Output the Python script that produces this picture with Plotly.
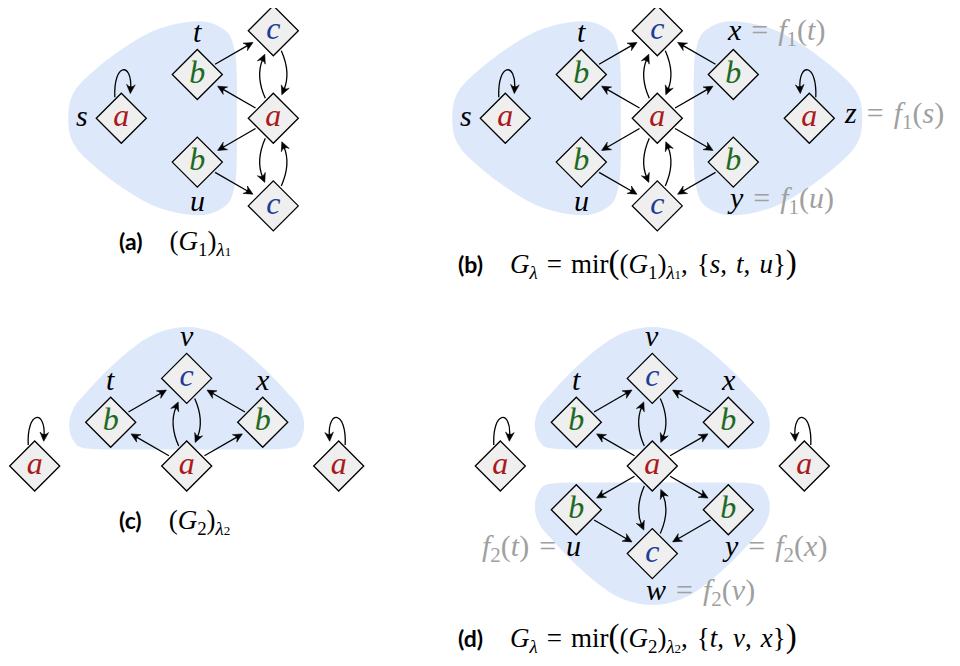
import math
import plotly.graph_objects as go

# ---------------- data ----------------
# Panel (a): (G1)_{λ1}
A_ID = ["s", "t", "u", "m", "c1", "c2"]
A_KIND = ["a", "b", "b", "a", "c", "c"]
A_COL = [-2, -1, -1, 0, 0, 0]
A_ROW = [0, -1, 1, 0, -2, 2]
A_EDGES = [("t", "c1"), ("m", "t"), ("m", "u"), ("u", "c2")]
A_BENDS = [("m", "c1"), ("m", "c2")]
A_LOOPS = [("s", "R")]
A_LABELS = [("s", "s", "left", "", ""), ("t", "t", "above", "", ""), ("u", "u", "below", "", "")]

# Panel (b): G_λ = mir((G1)_{λ1}, {s,t,u})
B_ID = ["s", "t", "u", "c1", "m", "c2", "x", "y", "z"]
B_KIND = ["a", "b", "b", "c", "a", "c", "b", "b", "a"]
B_COL = [-2, -1, -1, 0, 0, 0, 1, 1, 2]
B_ROW = [0, -1, 1, -2, 0, 2, -1, 1, 0]
B_EDGES = [("t", "c1"), ("m", "t"), ("m", "u"), ("u", "c2"),
           ("x", "c1"), ("m", "x"), ("m", "y"), ("y", "c2")]
B_BENDS = [("m", "c1"), ("m", "c2")]
B_LOOPS = [("s", "R"), ("z", "L")]
B_LABELS = [("s", "s", "left", "", ""), ("t", "t", "above", "", ""), ("u", "u", "below", "", ""),
            ("x", "x", "above", "", "f|1|t"), ("y", "y", "below", "", "f|1|u"),
            ("z", "z", "right", "", "f|1|s")]

# Panel (c): (G2)_{λ2}
C_ID = ["l", "t", "v", "m", "x", "r"]
C_KIND = ["a", "b", "c", "a", "b", "a"]
C_COL = [-2, -1, 0, 0, 1, 2]
C_ROW = [0, -1, -2, 0, -1, 0]
C_EDGES = [("t", "v"), ("m", "t"), ("x", "v"), ("m", "x")]
C_BENDS = [("m", "v")]
C_LOOPS = [("l", "R"), ("r", "L")]
C_LABELS = [("t", "t", "above", "", ""), ("v", "v", "above", "", ""), ("x", "x", "above", "", "")]

# Panel (d): G_λ = mir((G2)_{λ2}, {t,v,x})
D_ID = ["l", "t", "v", "m", "x", "r", "u", "w", "y"]
D_KIND = ["a", "b", "c", "a", "b", "a", "b", "c", "b"]
D_COL = [-2, -1, 0, 0, 1, 2, -1, 0, 1]
D_ROW = [0, -1, -2, 0, -1, 0, 1, 2, 1]
D_EDGES = [("t", "v"), ("m", "t"), ("x", "v"), ("m", "x"),
           ("m", "u"), ("u", "w"), ("m", "y"), ("y", "w")]
D_BENDS = [("m", "v"), ("m", "w")]
D_LOOPS = [("l", "R"), ("r", "L")]
D_LABELS = [("v", "v", "above", "", ""), ("t", "t", "above", "", ""), ("x", "x", "above", "", ""),
            ("u", "u", "below", "f|2|t", ""), ("y", "y", "below", "", "f|2|x"),
            ("w", "w", "below", "", "f|2|v")]

CAPTION_TAGS = ["(a)", "(b)", "(c)", "(d)"]

# ---------------- style / layout ----------------
W, H = 960, 666
OFF = 8  # default page margin of the html body
UX, UY = 76.0, 43.8
ORIGINS = {"a": (273.3, 118.3), "b": (657.3, 118.3), "c": (186.7, 466.0), "d": (652.3, 466.0)}
KIND_COLOR = {"a": "#ab1a1a", "b": "#1e6a22", "c": "#203c98"}
BLOB = "#dde9fb"
NODE_FILL = "#efefef"
GRAY = "#a0a0a0"
SERIF = "Liberation Serif"
LW = 1.3
HEAD_L, HEAD_W = 9.0, 4.3
LABEL_SIZE = 30
NODE_TEXT_SIZE = 32
CAP_SIZE = 27

shapes = []
annotations = []


def add_head(tip, u):
    ux, uy = u
    nx, ny = -uy, ux
    bx, by = tip[0] - HEAD_L * ux, tip[1] - HEAD_L * uy
    b1 = (bx + HEAD_W * nx, by + HEAD_W * ny)
    b2 = (bx - HEAD_W * nx, by - HEAD_W * ny)
    c = (tip[0] - 0.5 * HEAD_L * ux, tip[1] - 0.5 * HEAD_L * uy)
    path = (f"M {tip[0]:.2f},{tip[1]:.2f} L {b1[0]:.2f},{b1[1]:.2f} "
            f"Q {c[0]:.2f},{c[1]:.2f} {b2[0]:.2f},{b2[1]:.2f} Z")
    shapes.append(dict(type="path", path=path, xref="x", yref="y", layer="below",
                       fillcolor="black", line=dict(color="black", width=0.6)))


def unit(dx, dy):
    d = math.hypot(dx, dy)
    return dx / d, dy / d


def straight(p, q):
    ux, uy = unit(q[0] - p[0], q[1] - p[1])
    k = 1.0 / (abs(ux) + abs(uy))
    s = (p[0] + ux * 28 * k, p[1] + uy * 28 * k)
    tip = (q[0] - ux * 32 * k, q[1] - uy * 32 * k)
    e = (tip[0] - ux * 0.6 * HEAD_L, tip[1] - uy * 0.6 * HEAD_L)
    shapes.append(dict(type="path", path=f"M {s[0]:.2f},{s[1]:.2f} L {e[0]:.2f},{e[1]:.2f}",
                       xref="x", yref="y", layer="below", line=dict(color="black", width=LW)))
    add_head(tip, (ux, uy))


def bent(p, q, sx):
    # arrow between vertically aligned nodes, bowing to side sx
    dv = 1 if q[1] > p[1] else -1
    s = (p[0] + sx * 8, p[1] + dv * 20)
    tip = (q[0] + sx * 8.5, q[1] - dv * 23.5)
    ctrl = (p[0] + sx * 17.8, (s[1] + tip[1]) / 2)
    u = unit(tip[0] - ctrl[0], tip[1] - ctrl[1])
    e = (tip[0] - u[0] * 0.6 * HEAD_L, tip[1] - u[1] * 0.6 * HEAD_L)
    shapes.append(dict(type="path",
                       path=f"M {s[0]:.2f},{s[1]:.2f} Q {ctrl[0]:.2f},{ctrl[1]:.2f} {e[0]:.2f},{e[1]:.2f}",
                       xref="x", yref="y", layer="below", line=dict(color="black", width=LW)))
    add_head(tip, u)


def loop(p, side):
    f = 1 if side == "R" else -1
    cx, cy = p
    s = (cx - f * 6.5, cy - 21)
    c1 = (cx - f * 8, cy - 56)
    c2 = (cx + f * 11, cy - 56)
    tip = (cx + f * 9, cy - 24.7)
    u = unit(tip[0] - c2[0], tip[1] - c2[1])
    e = (tip[0] - u[0] * 0.6 * HEAD_L, tip[1] - u[1] * 0.6 * HEAD_L)
    shapes.append(dict(type="path",
                       path=(f"M {s[0]:.2f},{s[1]:.2f} C {c1[0]:.2f},{c1[1]:.2f} "
                             f"{c2[0]:.2f},{c2[1]:.2f} {e[0]:.2f},{e[1]:.2f}"),
                       xref="x", yref="y", layer="below", line=dict(color="black", width=LW)))
    add_head(tip, u)


def smooth_closed(pts):
    n = len(pts)
    d = f"M {pts[0][0]:.2f},{pts[0][1]:.2f}"
    for i in range(n):
        p0, p1, p2, p3 = pts[i - 1], pts[i], pts[(i + 1) % n], pts[(i + 2) % n]
        c1 = (p1[0] + (p2[0] - p0[0]) / 6, p1[1] + (p2[1] - p0[1]) / 6)
        c2 = (p2[0] - (p3[0] - p1[0]) / 6, p2[1] - (p3[1] - p1[1]) / 6)
        d += f" C {c1[0]:.2f},{c1[1]:.2f} {c2[0]:.2f},{c2[1]:.2f} {p2[0]:.2f},{p2[1]:.2f}"
    return d + " Z"


SIDE_BLOB = [(-73, -97), (-47, -87), (-38.5, -67), (-36.5, -42), (-36.5, 0), (-36.5, 42),
             (-38.5, 67), (-47, 87), (-73, 97), (-113, 90), (-147, 72), (-180, 47),
             (-200, 25), (-205, 0), (-200, -25), (-180, -47), (-147, -72), (-113, -90)]
DOME_BLOB = [(0, -139), (27, -134), (50, -121), (77, -98), (100, -74), (113, -58),
             (117.5, -41), (113, -25), (100, -17.5), (50, -16.5), (0, -16.5), (-50, -16.5),
             (-100, -17.5), (-113, -25), (-117.5, -41), (-113, -58), (-100, -74),
             (-77, -98), (-50, -121), (-27, -134)]


def add_blob(origin, pts, fx=1, fy=1):
    ox, oy = origin
    absp = [(ox + fx * x, oy + fy * y) for x, y in pts]
    shapes.append(dict(type="path", path=smooth_closed(absp), xref="x", yref="y",
                       layer="below", fillcolor=BLOB, line=dict(width=0)))


add_blob(ORIGINS["a"], SIDE_BLOB)
add_blob(ORIGINS["b"], SIDE_BLOB)
add_blob(ORIGINS["b"], SIDE_BLOB, fx=-1)
add_blob(ORIGINS["c"], DOME_BLOB)
add_blob(ORIGINS["d"], DOME_BLOB)
add_blob(ORIGINS["d"], DOME_BLOB, fy=-1)


def fn_text(spec):
    name, idx, arg = spec.split("|")
    return f"<i>{name}</i><sub>{idx}</sub>(<i>{arg}</i>)"


PANELS = [
    ("a", A_ID, A_KIND, A_COL, A_ROW, A_EDGES, A_BENDS, A_LOOPS, A_LABELS),
    ("b", B_ID, B_KIND, B_COL, B_ROW, B_EDGES, B_BENDS, B_LOOPS, B_LABELS),
    ("c", C_ID, C_KIND, C_COL, C_ROW, C_EDGES, C_BENDS, C_LOOPS, C_LABELS),
    ("d", D_ID, D_KIND, D_COL, D_ROW, D_EDGES, D_BENDS, D_LOOPS, D_LABELS),
]

node_x, node_y, node_txt, node_col = [], [], [], []
EQ = "\u2004=\u2004"

for key, ids, kinds, cols, rows, edges, bends, loops, labels in PANELS:
    ox, oy = ORIGINS[key]
    pos = {i: (ox + c * UX, oy + r * UY) for i, c, r in zip(ids, cols, rows)}
    for i, k in zip(ids, kinds):
        node_x.append(pos[i][0])
        node_y.append(pos[i][1])
        node_txt.append(k)
        node_col.append(KIND_COLOR[k])
    for p, q in edges:
        straight(pos[p], pos[q])
    for p, q in bends:
        bent(pos[p], pos[q], -1)
        bent(pos[q], pos[p], +1)
    for n, side in loops:
        loop(pos[n], side)
    for n, name, side, pre, suf in labels:
        cx, cy = pos[n]
        txt = f"<i>{name}</i>"
        if pre:
            txt = f"<span style='color:{GRAY}'>{fn_text(pre)}{EQ}</span>" + txt
        if suf:
            txt = txt + f"<span style='color:{GRAY}'>{EQ}{fn_text(suf)}</span>"
        if side == "left":
            ax, ay, xa = cx - 31, cy - 3, "right"
        elif side == "right":
            ax, ay, xa = cx + 33, cy - 3, "left"
        else:
            ay = cy - 43 if side == "above" else cy + 38
            if pre:
                ax, xa = cx + 7, "right"
            elif suf:
                ax, xa = cx - 8, "left"
            else:
                ax, xa = cx, "center"
        annotations.append(dict(x=ax, y=ay, xref="x", yref="y", text=txt, showarrow=False,
                                xanchor=xa, yanchor="middle",
                                font=dict(family=SERIF, size=LABEL_SIZE, color="black")))

fig = go.Figure()
fig.add_trace(go.Scatter(
    x=node_x, y=node_y, mode="markers+text", text=node_txt, textposition="middle center",
    marker=dict(symbol="diamond", size=38.5, color=NODE_FILL, line=dict(color="black", width=LW)),
    textfont=dict(family=SERIF, size=NODE_TEXT_SIZE, color=node_col, style="italic"),
    hoverinfo="skip", cliponaxis=False))

TAG = "<b><span style='font-family:Lato;font-size:23px'>{}</span></b>\u2003"
BIGL = "<span style='font-size:33px'>(</span>"
BIGR = "<span style='font-size:33px'>)</span>"
SP = "\u2004"


def lam(i):
    return f"<sub><i>λ</i><span style='font-size:13px'>{i}</span></sub>"


cap_a = TAG.format(CAPTION_TAGS[0]) + "(<i>G</i><sub>1</sub>)" + lam(1)
cap_b = (TAG.format(CAPTION_TAGS[1]) + "<i>G</i><sub><i>λ</i></sub>" + EQ + "mir" + BIGL +
         "(<i>G</i><sub>1</sub>)" + lam(1) +
         f",{SP}{{<i>s</i>,{SP}<i>t</i>,{SP}<i>u</i>}}" + BIGR)
cap_c = TAG.format(CAPTION_TAGS[2]) + "(<i>G</i><sub>2</sub>)" + lam(2)
cap_d = (TAG.format(CAPTION_TAGS[3]) + "<i>G</i><sub><i>λ</i></sub>" + EQ + "mir" + BIGL +
         "(<i>G</i><sub>2</sub>)" + lam(2) +
         f",{SP}{{<i>t</i>,{SP}<i>v</i>,{SP}<i>x</i>}}" + BIGR)
for txt, x, y in [(cap_a, 117, 243), (cap_b, 456, 263), (cap_c, 117, 522), (cap_d, 456, 637)]:
    annotations.append(dict(x=x, y=y, xref="x", yref="y", text=txt, showarrow=False,
                            xanchor="left", yanchor="middle",
                            font=dict(family=SERIF, size=CAP_SIZE, color="black")))

fig.update_layout(
    width=W - 2 * OFF, height=H - 2 * OFF, margin=dict(l=0, r=0, t=0, b=0),
    paper_bgcolor="white", plot_bgcolor="white", showlegend=False,
    xaxis=dict(range=[OFF, W - OFF], visible=False, fixedrange=True),
    yaxis=dict(range=[H - OFF, OFF], visible=False, fixedrange=True),
    shapes=shapes, annotations=annotations,
)
fig.write_html("out.html")
